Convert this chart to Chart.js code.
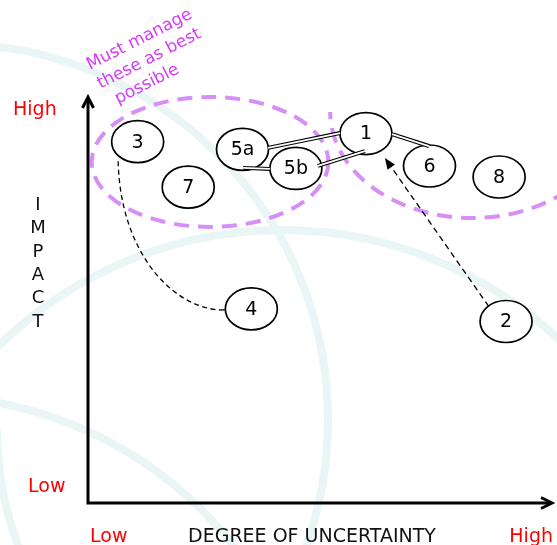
<!DOCTYPE html>
<html>
<head>
<meta charset="utf-8">
<script src="https://cdn.jsdelivr.net/npm/chart.js@4.4.1/dist/chart.umd.min.js"></script>
<style>
  html, body { margin: 0; padding: 0; background: #fff; }
  canvas { display: block; }
</style>
</head>
<body>
<canvas id="chart" width="557" height="545"></canvas>
<script>
// risk items: degree of uncertainty (x) vs impact (y), both on a 0-10 scale
const riskIds = ["3", "7", "5a", "5b", "1", "6", "8", "4", "2"]
const uncertainty = [1.07, 2.16, 3.33, 4.48, 5.99, 7.36, 8.86, 3.52, 9.01]
const impact = [8.90, 7.78, 8.71, 8.24, 9.10, 8.30, 8.03, 4.78, 4.47]

// axis texts
const xTitle = "DEGREE OF UNCERTAINTY"
const yTitle = "IMPACT"
const lowHigh = ["Low", "High"]
const noteLines = ["Must manage", "these as best", "possible"]

// links between risks
const doubleLinks = [["5a", "1"], ["5a", "5b"], ["5b", "1"], ["1", "6"]]
const curveLinks = [["3", "4"]]
const arrowLinks = [["2", "1"]]

// the two "manage" zones (centre x, centre y, half width, half height in axis units)
const zoneCentreX = [2.63, 8.28]
const zoneCentreY = [8.40, 9.63]
const zoneHalfW = [2.55, 3.06]
const zoneHalfH = [1.60, 2.61]

const chartEl = document.getElementById("chart")

// where each link leaves / reaches an ellipse (pixel offsets from the centre)
const linkEnds = {
  "5a-1": [[25.5, -1.5], [-26, -0.5]],
  "5a-5b": [[0.5, 18.5], [-26, 0.5]],
  "5b-1": [[22, -2.5], [-1, 17.5]],
  "1-6": [[26, 0.5], [-0.5, -20]],
  "3-4": [[-19.5, 19.5], [-26.5, 1]],
  "2-1": [[-19, -17.5], [19, 24.5]]
}

// faint background rings (decoration)
const rings = [
  [-48, 420, 376, 0, Math.PI * 2],
  [282, 635, 405, 0, Math.PI * 2],
  [-75, 789, 393, 0, Math.PI * 2],
  [322, 430, 325, Math.PI * 0.82, Math.PI]
]

const pos = (chart, id) => {
  const i = riskIds.indexOf(id)
  return {
    x: chart.scales.x.getPixelForValue(uncertainty[i]),
    y: chart.scales.y.getPixelForValue(impact[i])
  }
}

const endPoints = (chart, a, b) => {
  const off = linkEnds[a + "-" + b]
  const p = pos(chart, a), q = pos(chart, b)
  return [{x: p.x + off[0][0], y: p.y + off[0][1]}, {x: q.x + off[1][0], y: q.y + off[1][1]}]
}

const riskMap = {
  id: "riskMap",
  beforeDatasetsDraw(chart) {
    const ctx = chart.ctx
    const a = chart.chartArea
    const sx = chart.scales.x, sy = chart.scales.y
    ctx.save()

    // background rings
    ctx.strokeStyle = "#eaf5f5"
    ctx.lineWidth = 8
    rings.forEach(r => {
      ctx.beginPath()
      ctx.arc(r[0], r[1], r[2], r[3], r[4])
      ctx.stroke()
    })

    // dashed zones
    ctx.strokeStyle = "#d78ff6"
    ctx.lineWidth = 4
    ctx.setLineDash([15, 9])
    for (let i = 0; i < zoneCentreX.length; i++) {
      const cx = sx.getPixelForValue(zoneCentreX[i])
      const cy = sy.getPixelForValue(zoneCentreY[i])
      const rx = sx.getPixelForValue(zoneCentreX[i] + zoneHalfW[i]) - cx
      const ry = cy - sy.getPixelForValue(zoneCentreY[i] + zoneHalfH[i])
      ctx.beginPath()
      if (i == 0) {
        ctx.ellipse(cx, cy, rx, ry, 0, 0, Math.PI * 2)
      } else {
        // only the lower half of the right zone is drawn
        ctx.ellipse(cx, cy, rx, ry, 0, 0, Math.PI)
      }
      ctx.stroke()
    }
    ctx.setLineDash([])

    // axes with open arrow heads
    ctx.strokeStyle = "#000"
    ctx.lineWidth = 3
    ctx.lineJoin = "miter"
    ctx.beginPath()
    ctx.moveTo(a.left, a.bottom + 1)
    ctx.lineTo(a.left, a.top + 1)
    ctx.moveTo(a.left - 1.5, a.bottom)
    ctx.lineTo(a.right - 1, a.bottom)
    ctx.stroke()
    ctx.beginPath()
    ctx.moveTo(a.left - 5.5, a.top + 11)
    ctx.lineTo(a.left, a.top)
    ctx.lineTo(a.left + 5.5, a.top + 11)
    ctx.moveTo(a.right - 11, a.bottom - 5.5)
    ctx.lineTo(a.right, a.bottom)
    ctx.lineTo(a.right - 11, a.bottom + 5.5)
    ctx.stroke()

    // axis texts
    ctx.font = "19px 'DejaVu Sans'"
    ctx.textBaseline = "alphabetic"
    ctx.fillStyle = "#ff0000"
    ctx.textAlign = "left"
    ctx.fillText(lowHigh[1], 13, a.top + 18)
    ctx.fillText(lowHigh[0], 28, a.bottom - 11)
    ctx.fillText(lowHigh[0], a.left + 2, a.bottom + 39)
    ctx.textAlign = "right"
    ctx.fillText(lowHigh[1], a.right + 1, a.bottom + 39)
    ctx.fillStyle = "#111"
    ctx.textAlign = "center"
    ctx.fillText(xTitle, 312, a.bottom + 39)
    ctx.font = "18px 'DejaVu Sans'"
    for (let i = 0; i < yTitle.length; i++) {
      ctx.fillText(yTitle[i], 38, 210 + i * 23.3)
    }
    ctx.restore()
  },
  afterDatasetsDraw(chart) {
    const ctx = chart.ctx
    ctx.save()

    // risk ellipses
    riskIds.forEach(id => {
      const p = pos(chart, id)
      ctx.beginPath()
      ctx.ellipse(p.x, p.y, 26, 21, 0, 0, Math.PI * 2)
      ctx.fillStyle = "#fff"
      ctx.fill()
      ctx.strokeStyle = "#000"
      ctx.lineWidth = 1.7
      ctx.stroke()
      ctx.fillStyle = "#000"
      ctx.font = "19px 'DejaVu Sans'"
      ctx.textAlign = "center"
      ctx.textBaseline = "middle"
      ctx.fillText(id, p.x, p.y + 1)
    })

    // double connector lines
    doubleLinks.forEach(l => {
      const [p, q] = endPoints(chart, l[0], l[1])
      ctx.beginPath()
      ctx.moveTo(p.x, p.y)
      ctx.lineTo(q.x, q.y)
      ctx.strokeStyle = "#000"
      ctx.lineWidth = 4
      ctx.stroke()
      ctx.strokeStyle = "#fff"
      ctx.lineWidth = 1.8
      ctx.stroke()
    })

    // dashed curve
    ctx.strokeStyle = "#000"
    ctx.lineWidth = 1.3
    curveLinks.forEach(l => {
      const [p, q] = endPoints(chart, l[0], l[1])
      ctx.setLineDash([5, 3.5])
      ctx.beginPath()
      ctx.moveTo(p.x, p.y)
      ctx.bezierCurveTo(p.x + 2, q.y - 60, q.x - 55, q.y - 4, q.x - 6, q.y)
      ctx.stroke()
      ctx.setLineDash([])
      ctx.beginPath()
      ctx.moveTo(q.x - 6, q.y)
      ctx.lineTo(q.x, q.y)
      ctx.stroke()
    })

    // dashed arrow
    arrowLinks.forEach(l => {
      const [p, q] = endPoints(chart, l[0], l[1])
      const ang = Math.atan2(q.y - p.y, q.x - p.x)
      ctx.setLineDash([6, 4])
      ctx.beginPath()
      ctx.moveTo(p.x - 3 * Math.cos(ang), p.y - 3 * Math.sin(ang))
      ctx.lineTo(q.x - 8 * Math.cos(ang), q.y - 8 * Math.sin(ang))
      ctx.stroke()
      ctx.setLineDash([])
      ctx.beginPath()
      ctx.moveTo(q.x, q.y)
      ctx.lineTo(q.x - 11 * Math.cos(ang) + 4.5 * Math.sin(ang), q.y - 11 * Math.sin(ang) - 4.5 * Math.cos(ang))
      ctx.lineTo(q.x - 11 * Math.cos(ang) - 4.5 * Math.sin(ang), q.y - 11 * Math.sin(ang) + 4.5 * Math.cos(ang))
      ctx.closePath()
      ctx.fillStyle = "#000"
      ctx.fill()
    })

    // note above the left zone
    ctx.translate(90, 70)
    ctx.rotate(-27 * Math.PI / 180)
    ctx.font = "17px 'DejaVu Sans'"
    ctx.fillStyle = "#d43cf6"
    ctx.textAlign = "left"
    ctx.textBaseline = "alphabetic"
    const shift = [0, 0.7, 9.5]
    noteLines.forEach((t, i) => ctx.fillText(t, shift[i], i * 21.5))
    ctx.restore()
  }
}

const chart = new Chart(chartEl, {
  type: "scatter",
  data: {
    datasets: [{
      data: riskIds.map((id, i) => ({x: uncertainty[i], y: impact[i]})),
      pointRadius: 0,
      pointHoverRadius: 0
    }]
  },
  options: {
    responsive: false,
    animation: false,
    devicePixelRatio: 1,
    layout: {padding: {left: 88, right: 5, top: 97, bottom: 42}},
    plugins: {legend: {display: false}, tooltip: {enabled: false}},
    scales: {
      x: {type: "linear", min: 0, max: 10, display: false},
      y: {type: "linear", min: 0, max: 10, display: false}
    }
  },
  plugins: [riskMap]
})
</script>
</body>
</html>
